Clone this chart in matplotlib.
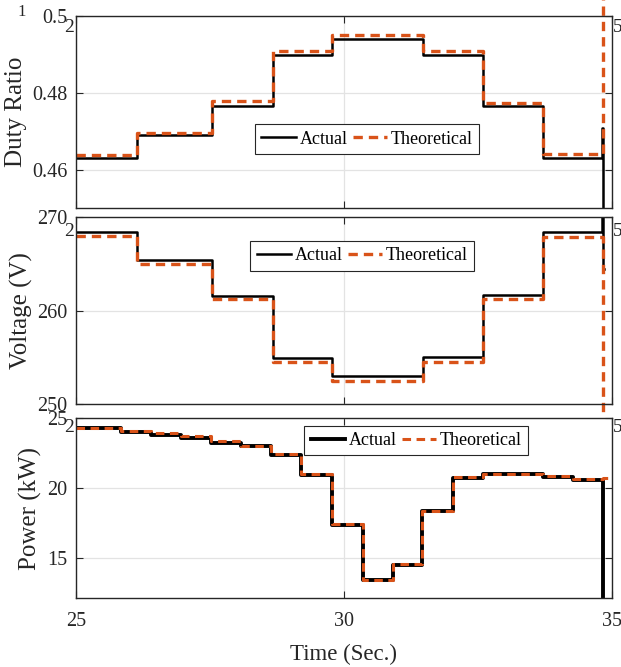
import matplotlib
matplotlib.use("Agg")
import matplotlib.pyplot as plt

plt.rcParams['font.family'] = ['Liberation Serif', 'DejaVu Serif']

# step breakpoints (s) and levels
t_steps = [25, 26.14, 27.53, 28.67, 29.78, 31.48, 32.60, 33.72, 34.84]

duty_theory = [0.4639, 0.4696, 0.4778, 0.4908, 0.4951, 0.4908, 0.4774, 0.4641, 0.505]
duty_actual_t = [25, 26.14, 27.53, 28.67, 29.78, 31.48, 32.60, 33.72, 34.82, 34.84, 35]
duty_actual = [0.4630, 0.4691, 0.4765, 0.4899, 0.4940, 0.4899, 0.4765, 0.4630, 0.4709, 0.40, 0.40]

volt_theory = [268.04, 265.0, 261.25, 254.53, 252.5, 254.46, 261.25, 267.86, 248.3]
volt_actual_t = [25, 26.14, 27.53, 28.67, 29.78, 31.48, 32.60, 33.72, 34.82, 34.84, 34.85]
volt_actual = [268.4, 265.43, 261.6, 254.93, 253.0, 255.07, 261.7, 268.4, 272.0, 264.5, 264.5]

power_t = [25, 25.84, 26.40, 26.96, 27.52, 28.08, 28.64, 29.20, 29.78, 30.35,
           30.92, 31.46, 32.04, 32.60, 33.71, 34.27, 34.83, 35]
power_theory = [24.33, 24.09, 23.95, 23.71, 23.38, 23.04, 22.43, 21.00, 17.43, 13.43,
                14.57, 18.38, 20.76, 21.04, 20.83, 20.66, 20.70, 20.70]
power_actual = [24.30, 24.00, 23.81, 23.57, 23.26, 22.98, 22.35, 20.95, 17.38, 13.38,
                14.52, 18.33, 20.72, 21.00, 20.79, 20.60, 5.0, 5.0]

ylabels = ['Duty Ratio', 'Voltage (V)', 'Power (kW)']
yticks = [[0.46, 0.48, 0.5], [250, 260, 270], [15, 20, 25]]
yticklabels = [['0.46', '0.48', '0.5'], ['250', '260', '270'], ['15', '20', '25']]
ylims = [(0.45, 0.5), (250, 270), (12.1, 25)]
xticks = [25, 30, 35]

W, H = 621, 667
fig = plt.figure(figsize=(W / 100, H / 100), dpi=100)

# axes boxes in pixels: left, top, right, bottom
boxes = [(76, 16, 612, 208.3), (76, 217.3, 612, 404), (76, 418.3, 612, 598.3)]
axes = []
for (l, t, r, b) in boxes:
    axes.append(fig.add_axes([l / W, 1 - b / H, (r - l) / W, (b - t) / H]))

orange = '#D95319'
dash = (0, (2.8, 1.8))

ax1, ax2, ax3 = axes
ax1.step(duty_actual_t, duty_actual, where='post', color='k', lw=1.8, label='Actual')
ax1.step(t_steps, duty_theory, where='post', color=orange, lw=2.4, ls=dash,
         label='Theoretical', clip_on=False)

ax2.step(volt_actual_t, volt_actual, where='post', color='k', lw=1.8, label='Actual')
ax2.step(t_steps, volt_theory, where='post', color=orange, lw=2.4, ls=dash,
         label='Theoretical', clip_on=False)

ax3.step(power_t, power_actual, where='post', color='k', lw=2.8, label='Actual')
ax3.step(power_t, power_theory, where='post', color=orange, lw=2.2, ls=dash,
         label='Theoretical')

leg_pos = [(0.543, 0.360), (0.534, 0.793), (0.635, 0.877)]
label_x = [-0.091, -0.080, -0.063]
for i, ax in enumerate(axes):
    ax.set_xlim(25, 35)
    ax.set_ylim(*ylims[i])
    ax.set_xticks(xticks)
    ax.set_yticks(yticks[i])
    ax.set_yticklabels(yticklabels[i])
    ax.grid(True, color='#E3E3E3', lw=0.9)
    ax.set_axisbelow(True)
    ax.tick_params(direction='in', length=5, width=0.8, top=True, right=True,
                   labelsize=14.5, colors='#262626')
    ax.tick_params(axis='y', pad=6)
    ax.tick_params(axis='x', pad=10)
    for s in ax.spines.values():
        s.set_linewidth(1.0)
        s.set_color('#262626')
    if i < 2:
        ax.tick_params(labelbottom=False)
    ax.set_ylabel(ylabels[i], fontsize=18, color='#262626')
    ax.yaxis.set_label_coords(label_x[i], 0.5)
    leg = ax.legend(loc='center', bbox_to_anchor=leg_pos[i], ncol=2, fontsize=13,
                    frameon=True, fancybox=False, framealpha=1, edgecolor='#262626',
                    handlelength=1.9, handletextpad=0.2, columnspacing=0.3,
                    borderpad=0.35, borderaxespad=0)
    leg.get_frame().set_linewidth(0.8)

ax3.set_xlabel('Time (Sec.)', fontsize=16.5, color='#262626', labelpad=9)

# stray labels left over in the original figure
fig.text(22 / W, 1 - 12 / H, '1', fontsize=12, ha='center', va='center', color='#262626')
for y in [28, 232, 427]:
    fig.text(69 / W, 1 - y / H, '2', fontsize=14, ha='center', va='center', color='#262626')
    fig.text(613 / W, 1 - y / H, '5', fontsize=14, ha='left', va='center', color='#262626')

fig.savefig('out.png', dpi=100)
